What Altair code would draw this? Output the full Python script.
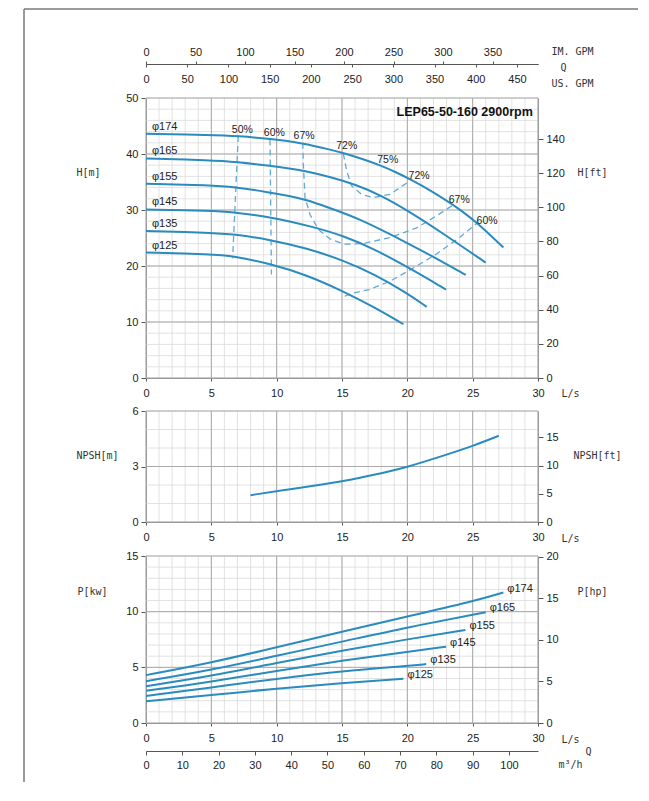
import altair as alt
import pandas as pd

# ---------------- data ----------------
diam = ["φ174", "φ165", "φ155", "φ145", "φ135", "φ125"]

# H-Q curves (Q in L/s, H in m)
q174 = [0, 5, 7.06, 9.49, 12.0, 14.08, 15.23, 16.63, 17.9, 19.18, 20.33, 21.7, 23.26, 24.3, 25.3, 27.35]
h174 = [43.6, 43.4, 43.2, 42.7, 41.95, 40.8, 40.1, 39.05, 38.0, 36.7, 35.35, 33.6, 31.3, 29.6, 27.8, 23.3]
q165 = [0, 5, 6.94, 9.44, 11.0, 12.3, 14.08, 16.1, 18.0, 19.95, 22.5, 26.0]
h165 = [39.2, 38.9, 38.6, 37.9, 37.4, 36.9, 35.9, 34.5, 32.6, 30.0, 26.2, 20.6]
q155 = [0, 5, 6.68, 9.36, 11.0, 12.3, 14.0, 16.1, 19.95, 22.5, 24.47]
h155 = [34.7, 34.4, 34.1, 33.2, 32.5, 31.8, 30.4, 28.7, 24.2, 21.0, 18.4]
q145 = [0, 5, 6.68, 9.49, 12.8, 15.1, 17.5, 19.95, 22.96]
h145 = [30.1, 29.85, 29.6, 28.8, 27.0, 25.4, 23.0, 19.9, 15.8]
q135 = [0, 5, 6.68, 9.49, 12.3, 15.1, 17.5, 19.95, 21.48]
h135 = [26.25, 25.95, 25.7, 24.7, 23.2, 21.0, 18.5, 15.2, 12.7]
q125 = [0, 5, 6.68, 9.49, 12.3, 15.0, 17.5, 19.7]
h125 = [22.4, 22.1, 21.8, 20.4, 18.4, 15.6, 12.6, 9.6]

# iso-efficiency lines
e50_q = [7.06, 6.63]
e50_h = [43.2, 21.4]
e60a_q = [9.49, 9.6]
e60a_h = [42.6, 18.5]
e67_q = [12.0, 12.04, 12.17, 12.55, 13.2, 14.1, 15.2, 16.6, 18.7, 20.7, 22.2, 23.5]
e67_h = [42.0, 38.2, 32.2, 29.2, 26.5, 24.8, 23.9, 24.0, 25.1, 26.8, 28.9, 30.9]
e72_q = [15.1, 15.36, 15.74, 16.5, 17.4, 18.67, 20.2]
e72_h = [40.1, 37.0, 34.3, 32.8, 32.2, 32.8, 35.2]
e60b_q = [15.2, 15.9, 17.1, 18.7, 20.5, 22.2, 24.0, 25.3]
e60b_h = [14.6, 15.2, 15.8, 17.3, 19.7, 22.1, 25.1, 27.6]

eff_text = ["50%", "60%", "67%", "72%", "75%", "72%", "67%", "60%"]
eff_text_q = [7.37, 9.82, 12.1, 15.36, 18.5, 20.9, 23.97, 26.1]
eff_text_h = [44.2, 43.8, 43.2, 41.4, 38.9, 36.1, 31.7, 28.1]

# NPSH curve (m)
npsh_q = [8.0, 10.4, 13.25, 15.1, 17.5, 20.07, 22.6, 25.0, 27.0]
npsh_v = [1.45, 1.71, 2.0, 2.2, 2.55, 2.98, 3.55, 4.1, 4.66]

# Power curves (kW)
p174_q = [0, 5, 10, 15, 20, 25, 27.35]
p174_v = [4.30, 5.41, 6.80, 8.21, 9.56, 10.91, 11.72]
p165_q = [0, 5, 10, 15, 20, 26.0]
p165_v = [3.76, 4.75, 6.05, 7.30, 8.60, 9.95]
p155_q = [0, 5, 10, 15, 20, 24.45]
p155_v = [3.31, 4.21, 5.41, 6.50, 7.52, 8.36]
p145_q = [0, 5, 10, 15, 20, 22.96]
p145_v = [2.89, 3.70, 4.69, 5.60, 6.40, 6.85]
p135_q = [0, 5, 10, 15, 20, 21.45]
p135_v = [2.43, 3.19, 3.98, 4.66, 5.13, 5.29]
p125_q = [0, 5, 10, 15, 19.7]
p125_v = [1.96, 2.50, 3.10, 3.60, 3.97]

title_text = "LEP65-50-160 2900rpm"

# tick / grid values
q_ticks = [0, 5, 10, 15, 20, 25, 30]
q_minor = list(range(0, 31))
hm_ticks = [0, 10, 20, 30, 40, 50]
hm_minor = list(range(0, 51, 2))
hft_ticks = [0, 20, 40, 60, 80, 100, 120, 140]
nm_ticks = [0, 3, 6]
nm_minor = [0, 1, 2, 3, 4, 5, 6]
nft_ticks = [0, 5, 10, 15]
pkw_ticks = [0, 5, 10, 15]
pkw_minor = list(range(0, 16))
php_ticks = [0, 5, 10, 15, 20]
im_ticks = [0, 50, 100, 150, 200, 250, 300, 350]
us_ticks = [0, 50, 100, 150, 200, 250, 300, 350, 400, 450]
m3h_ticks = [0, 10, 20, 30, 40, 50, 60, 70, 80, 90, 100]

Q_MAX = 30
IM_MAX = Q_MAX * 60 / 4.54609
US_MAX = Q_MAX * 60 / 3.78541
M3H_MAX = Q_MAX * 3.6
H_MAX = 50
HFT_MAX = H_MAX / 0.3048
N_MAX = 6
NFT_MAX = N_MAX / 0.3048
P_MAX = 15
PHP_MAX = P_MAX / 0.7457

# ---------------- layout / style ----------------
W = 392
VH = 625                      # whole view height (three panels)
P0 = (0, 280)                 # head panel (top, bottom) in px
P1 = (313, 424)               # NPSH panel
P2 = (458, 625)               # power panel
MINOR = "#dadada"
MAJOR = "#a9a9a9"
CURVE = "#2a8bbf"
DASH = "#62aad3"
FRAME = "#7a7a7a"
LF = "Liberation Sans"
TF = "DejaVu Sans Mono"
INTERP = "basis"


def xs(top=Q_MAX):
    return alt.Scale(domain=[0, top], nice=False, zero=True)


def ysc(top, panel):
    return alt.Scale(domain=[0, top], range=[panel[1], panel[0]], nice=False, zero=True)


def long_df(names, qs, vs):
    rows = []
    for n, q, v in zip(names, qs, vs):
        for i, (a, b) in enumerate(zip(q, v)):
            rows.append({"d": n, "q": a, "v": b, "i": i})
    return pd.DataFrame(rows)


def vrules(vals, color, sw, panel):
    return alt.Chart(pd.DataFrame({"q": vals})).mark_rule(color=color, strokeWidth=sw).encode(
        x=alt.X("q:Q", scale=xs(), axis=None), y=alt.value(panel[0]), y2=alt.value(panel[1]))


def hrules(vals, top, panel, color, sw):
    return alt.Chart(pd.DataFrame({"v": vals})).mark_rule(color=color, strokeWidth=sw).encode(
        y=alt.Y("v:Q", scale=ysc(top, panel), axis=None), x=alt.value(0), x2=alt.value(W))


def grid(ymin, ymaj, top, panel):
    return [vrules(q_minor, MINOR, 0.8, panel), hrules(ymin, top, panel, MINOR, 0.8),
            vrules(q_ticks, MAJOR, 1, panel), hrules(ymaj, top, panel, MAJOR, 1)]


def ls_axis(offset, title_y):
    return alt.Axis(values=q_ticks, orient="bottom", offset=offset, tickSize=3, labelPadding=6,
                    title="L/s", titleX=424, titleY=title_y, titleAngle=0,
                    titleAlign="center", titleBaseline="middle")


def left_axis(vals, title, tx, ty):
    return alt.Axis(values=vals, orient="left", tickSize=5, labelPadding=3,
                    title=title, titleX=tx, titleY=ty, titleAngle=0,
                    titleAlign="center", titleBaseline="middle")


def right_layer(vals, top, panel, title, tx, ty):
    return alt.Chart(pd.DataFrame({"r": [0]})).mark_point(opacity=0).encode(
        x=alt.X("r:Q", scale=xs(), axis=None),
        y=alt.Y("r:Q", scale=ysc(top, panel),
                axis=alt.Axis(values=vals, orient="right", tickSize=5, labelPadding=3,
                              title=title, titleX=tx, titleY=ty, titleAngle=0,
                              titleAlign="center", titleBaseline="middle")))


def x_extra(top, axis):
    return alt.Chart(pd.DataFrame({"e": [0]})).mark_point(opacity=0).encode(
        y=alt.Y("e:Q", scale=ysc(1, P0), axis=None),
        x=alt.X("e:Q", scale=xs(top), axis=axis))


def text_layer(df, top, panel, **kw):
    return alt.Chart(df).mark_text(**kw).encode(
        x=alt.X("q:Q", scale=xs(), axis=None),
        y=alt.Y("v:Q", scale=ysc(top, panel), axis=None), text="t:N")


# ---------------- head panel ----------------
hq = long_df(diam, [q174, q165, q155, q145, q135, q125], [h174, h165, h155, h145, h135, h125])
eff = long_df(["e50", "e60a", "e67", "e72", "e60b"],
              [e50_q, e60a_q, e67_q, e72_q, e60b_q],
              [e50_h, e60a_h, e67_h, e72_h, e60b_h])
effl = pd.DataFrame({"t": eff_text, "q": eff_text_q, "v": eff_text_h})
dlab = pd.DataFrame({"t": diam, "q": [0.45] * 6,
                     "v": [h174[0], h165[0], h155[0], h145[0], h135[0], h125[0]]})
ttl = pd.DataFrame({"t": [title_text], "q": [29.6], "v": [47.5]})

hq_lines = alt.Chart(hq).mark_line(color=CURVE, strokeWidth=2, interpolate=INTERP).encode(
    x=alt.X("q:Q", scale=xs(), axis=ls_axis(P0[1] - VH, 15)),
    y=alt.Y("v:Q", scale=ysc(H_MAX, P0), axis=left_axis(hm_ticks, "H[m]", -58, 74)),
    detail="d:N", order="i:Q")
eff_lines = alt.Chart(eff).mark_line(color=DASH, strokeWidth=1.3, strokeDash=[6, 4]).encode(
    x=alt.X("q:Q", scale=xs(), axis=None), y=alt.Y("v:Q", scale=ysc(H_MAX, P0), axis=None),
    detail="d:N", order="i:Q")
eff_txt = text_layer(effl, H_MAX, P0, font=LF, fontSize=10.5, color="#222")
d_txt = text_layer(dlab, H_MAX, P0, font=LF, fontSize=11, color="#222", align="left", dy=-7)
t_txt = text_layer(ttl, H_MAX, P0, font=LF, fontSize=12.5, fontWeight="bold", color="#111",
                   align="right")

im_layer = x_extra(IM_MAX, alt.Axis(values=im_ticks, orient="top", offset=34, tickSize=3,
                                    labelPadding=4, title="IM. GPM", titleX=426, titleY=-13,
                                    titleAlign="center", titleBaseline="middle"))
us_layer = x_extra(US_MAX, alt.Axis(values=us_ticks, orient="bottom", offset=-(VH + 34),
                                    tickSize=3, labelPadding=6, title="US. GPM", titleX=426,
                                    titleY=19, titleAlign="center", titleBaseline="middle"))
q_top = x_extra(1, alt.Axis(orient="bottom", offset=-(VH + 34), domain=False, ticks=False,
                            labels=False, title="Q", titleX=417, titleY=3,
                            titleAlign="center", titleBaseline="middle"))

# ---------------- NPSH panel ----------------
npsh = pd.DataFrame({"q": npsh_q, "v": npsh_v})
npsh_line = alt.Chart(npsh).mark_line(color=CURVE, strokeWidth=2, interpolate=INTERP).encode(
    x=alt.X("q:Q", scale=xs(), axis=ls_axis(P1[1] - VH, 16)),
    y=alt.Y("v:Q", scale=ysc(N_MAX, P1), axis=left_axis(nm_ticks, "NPSH[m]", -49, 357)))

# ---------------- power panel ----------------
pw = long_df(diam, [p174_q, p165_q, p155_q, p145_q, p135_q, p125_q],
             [p174_v, p165_v, p155_v, p145_v, p135_v, p125_v])
pend = pd.DataFrame({"t": diam,
                     "q": [p174_q[-1], p165_q[-1], p155_q[-1], p145_q[-1], p135_q[-1], p125_q[-1]],
                     "v": [p174_v[-1], p165_v[-1], p155_v[-1], p145_v[-1], p135_v[-1], p125_v[-1]]})
pw_lines = alt.Chart(pw).mark_line(color=CURVE, strokeWidth=2, interpolate=INTERP).encode(
    x=alt.X("q:Q", scale=xs(), axis=ls_axis(0, 16)),
    y=alt.Y("v:Q", scale=ysc(P_MAX, P2), axis=left_axis(pkw_ticks, "P[kw]", -54, 493)),
    detail="d:N", order="i:Q")
pw_txt = text_layer(pend, P_MAX, P2, font=LF, fontSize=11, color="#222", align="left", dx=4, dy=-4)

m3h_layer = x_extra(M3H_MAX, alt.Axis(values=m3h_ticks, orient="bottom", offset=28,
                                      tickSize=4, labelPadding=4, title="m³/h",
                                      titleX=424, titleY=13, titleAlign="center",
                                      titleBaseline="middle"))
q_bot = x_extra(1, alt.Axis(orient="bottom", offset=28, domain=False, ticks=False,
                            labels=False, title="Q", titleX=442, titleY=0,
                            titleAlign="center", titleBaseline="middle"))

# ---------------- page frame ----------------
one = pd.DataFrame({"a": [0]})
frame_v = alt.Chart(one).mark_rule(color=FRAME, strokeWidth=1.5).encode(
    x=alt.value(-122), y=alt.value(-89), y2=alt.value(684))
frame_h = alt.Chart(one).mark_rule(color=FRAME, strokeWidth=1.5).encode(
    x=alt.value(-122), x2=alt.value(492), y=alt.value(-89))

chart = alt.layer(
    *grid(hm_minor, hm_ticks, H_MAX, P0), eff_lines, hq_lines, eff_txt, d_txt, t_txt,
    right_layer(hft_ticks, HFT_MAX, P0, "H[ft]", 54, 74),
    im_layer, us_layer, q_top,
    *grid(nm_minor, nm_ticks, N_MAX, P1), npsh_line,
    right_layer(nft_ticks, NFT_MAX, P1, "NPSH[ft]", 59, 357),
    *grid(pkw_minor, pkw_ticks, P_MAX, P2), pw_lines, pw_txt,
    right_layer(php_ticks, PHP_MAX, P2, "P[hp]", 54, 493),
    m3h_layer, q_bot, frame_v, frame_h
).resolve_scale(x="independent", y="independent").properties(
    width=W, height=VH, padding={"left": 15, "top": 0, "right": 0, "bottom": 0}
).configure_view(strokeWidth=0).configure_axis(
    labelFont=LF, labelFontSize=11, labelColor="#222",
    titleFont=TF, titleFontSize=10, titleColor="#333", titleFontWeight="normal",
    domainColor="#555", tickColor="#555", labelFlush=False, grid=False)

chart.save("out.html", embed_options={"renderer": "svg", "actions": False})
